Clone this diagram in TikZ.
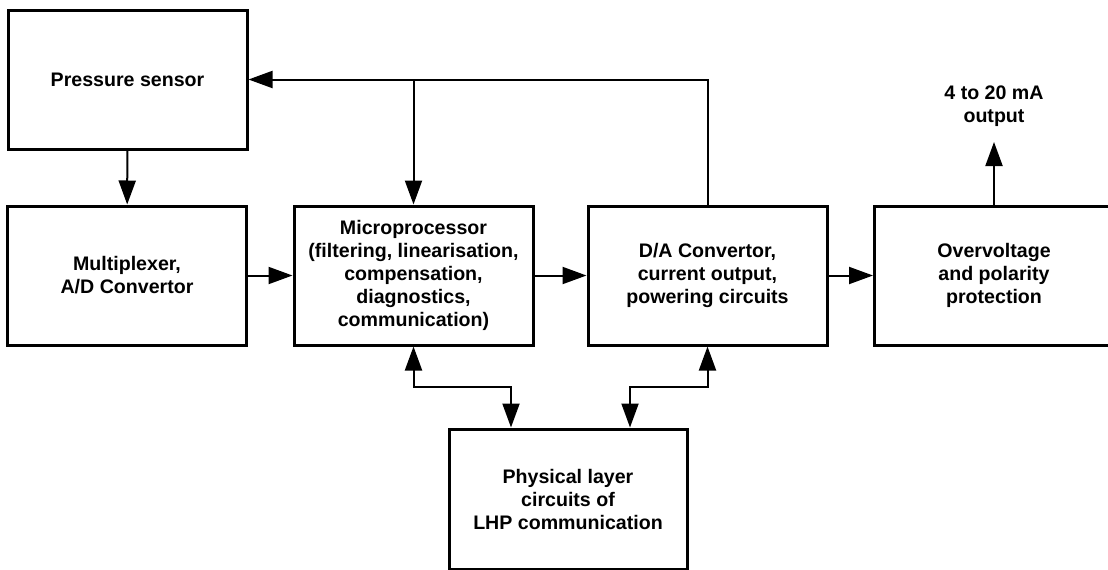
\documentclass[tikz,border=0pt]{standalone}
\usepackage{fontspec}
\setmainfont{Liberation Sans}
\usetikzlibrary{positioning, arrows.meta, calc}

\begin{document}
\begin{tikzpicture}[x=1pt, y=-1pt,
  block/.style={draw, line width=3pt, minimum width=239pt, minimum height=139pt,
    align=center, font=\bfseries\fontsize{19.6}{23}\selectfont},
  label/.style={align=center, font=\bfseries\fontsize{19.6}{23}\selectfont},
  conn/.style={line width=2pt, -{Triangle[length=24pt, width=17pt]}},
  both/.style={line width=2pt,
    {Triangle[length=24pt, width=17pt]}-{Triangle[length=24pt, width=17pt]}}]

  \useasboundingbox (0, 0) rectangle (1108, 570);
  \clip (0, 0) rectangle (1108, 570);

  % blocks
  \node[block] (sensor) at (127.5, 79.5) {Pressure sensor};
  \node[block] (mux) at (127, 275.5) {Multiplexer,\\A/D Convertor};
  \node[block] (micro) at (413.5, 275.5)
    {Microprocessor\\(filtering, linearisation,\\compensation,\\diagnostics,\\communication)};
  \node[block] (dac) at (707.5, 275.5) {D/A Convertor,\\current output,\\powering circuits};
  \node[block] (prot) at (994, 275.5) {Overvoltage\\and polarity\\protection};
  \node[block, minimum width=238pt, minimum height=140pt] (phys) at (568, 499)
    {Physical layer\\circuits of\\LHP communication};

  \node[label] (out) at (994, 106) {4 to 20 mA\\output};
  \coordinate (outtip) at (994, 142);

  % signal path
  \draw[conn] (sensor) -- (mux);
  \draw[conn] (mux) -- (micro);
  \draw[conn] (micro) -- (dac);
  \draw[conn] (dac) -- (prot);
  \draw[conn] (prot.north) -- (outtip);

  % feedback
  \draw[conn] (dac.north) |- (sensor.east);
  \draw[conn] (micro.north |- sensor.east) -- (micro.north);

  % communication
  \coordinate (pa) at ($(phys.north)+(-57, 0)$);
  \coordinate (pb) at ($(phys.north)+(62, 0)$);
  \draw[both] (micro.south) -- ++(0, 40.5) -| (pa);
  \draw[both] (dac.south) -- ++(0, 40.5) -| (pb);

\end{tikzpicture}
\end{document}
